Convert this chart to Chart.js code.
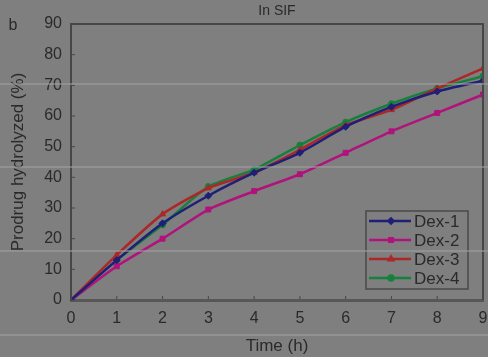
<!DOCTYPE html>
<html>
<head>
<meta charset="utf-8">
<script src="https://cdn.jsdelivr.net/npm/chart.js@4.4.1/dist/chart.umd.min.js"></script>
<style>
    html, body { margin: 0; padding: 0; background: #7f7f7f; }
    #wrap { width: 488px; height: 357px; position: relative; }
</style>
</head>
<body>
<div id="wrap"><canvas id="c"></canvas></div>
<script>
// hours
const hours = [0, 1, 2, 3, 4, 5, 6, 7, 8, 9]

// % prodrug hydrolyzed
const dex1 = [0, 13, 25, 34, 41.5, 48, 56.5, 63, 68, 71.5]
const dex2 = [0, 11, 20, 29.5, 35.5, 41, 48, 55, 61, 67]
const dex3 = [0, 14.7, 28, 36.5, 41.5, 49, 57, 62, 69, 75.5]
const dex4 = [0, 13, 24.5, 37, 42.5, 50.5, 58, 64, 69, 73]

const seriesNames = ["Dex-1", "Dex-2", "Dex-3", "Dex-4"]
const seriesColours = ["#1f1f78", "#b0137c", "#ac2727", "#16803c"]
const seriesMarkers = ["rectRot", "rect", "triangle", "circle"]

const yTicks = [0, 10, 20, 30, 40, 50, 60, 70, 80, 90]

const textColour = "#2a2a2a"
const axisColour = "#474747"
const fontFamily = "'Liberation Sans', Arial, sans-serif"

function makeSet(i, values) {
    return {
        label: seriesNames[i],
        data: hours.map((h, k) => ({x: h, y: values[k]})),
        borderColor: seriesColours[i],
        backgroundColor: seriesColours[i],
        pointStyle: seriesMarkers[i],
        pointRadius: i == 3 ? 3 : 3.5,
        pointBorderWidth: 1,
        borderWidth: 2.5,
        tension: 0.2
    }
}

// frame, inward ticks, title, panel letter and boxed legend inside the plot
const decorations = {
    id: "decorations",
    afterDraw(chart) {
        const ctx = chart.ctx
        const a = chart.chartArea
        const xs = chart.scales.x
        const ys = chart.scales.y
        ctx.save()

        ctx.strokeStyle = axisColour
        ctx.lineWidth = 2
        ctx.beginPath()
        ctx.moveTo(a.left, a.bottom)
        ctx.lineTo(a.left, a.top)
        ctx.lineTo(a.right, a.top)
        ctx.lineTo(a.right, a.bottom)
        ctx.stroke()

        // tick marks point into the plot
        ctx.lineWidth = 1
        ctx.beginPath()
        xs.ticks.forEach(t => {
            const px = xs.getPixelForValue(t.value)
            ctx.moveTo(px, a.bottom - 1)
            ctx.lineTo(px, a.bottom - 4)
        })
        ys.ticks.forEach(t => {
            const py = ys.getPixelForValue(t.value)
            ctx.moveTo(a.left + 1, py)
            ctx.lineTo(a.left + 4, py)
        })
        ctx.stroke()

        ctx.fillStyle = textColour
        ctx.font = "14px " + fontFamily
        ctx.textAlign = "center"
        ctx.textBaseline = "middle"
        ctx.fillText("In SIF", (a.left + a.right) / 2, a.top - 13)

        ctx.font = "16px " + fontFamily
        ctx.fillText("b", 13, a.top + 2)

        // legend box
        const bx = a.right - 117, by = a.bottom - 89, bw = 102, bh = 78
        ctx.strokeStyle = "#4a4a4a"
        ctx.lineWidth = 1.5
        ctx.strokeRect(bx, by, bw, bh)
        ctx.font = "17px " + fontFamily
        ctx.textAlign = "left"
        chart.data.datasets.forEach((ds, i) => {
            const yy = by + 10 + i * 19
            ctx.strokeStyle = ds.borderColor
            ctx.lineWidth = 2.5
            ctx.beginPath()
            ctx.moveTo(bx + 3, yy)
            ctx.lineTo(bx + 45, yy)
            ctx.stroke()
            ctx.fillStyle = ds.borderColor
            Chart.helpers.drawPoint(ctx, {pointStyle: ds.pointStyle, radius: 2.5, borderWidth: 1}, bx + 25, yy)
            ctx.fillStyle = textColour
            ctx.fillText(ds.label, bx + 48, yy + 1)
        })

        // faint scan lines that run across the picture
        ctx.fillStyle = "rgba(160,160,160,0.55)"
        ;[83, 166, 250, 334].forEach(y => ctx.fillRect(0, y, chart.width, 2))
        ctx.restore()
    }
}

new Chart(document.getElementById("c"), {
    type: "line",
    data: {
        datasets: [makeSet(0, dex1), makeSet(1, dex2), makeSet(2, dex3), makeSet(3, dex4)]
    },
    options: {
        responsive: true,
        maintainAspectRatio: false,
        animation: false,
        layout: { padding: { left: 0, right: 4, top: 24, bottom: 0 } },
        plugins: {
            legend: { display: false },
            tooltip: { enabled: false }
        },
        scales: {
            x: {
                type: "linear",
                min: 0,
                max: 9,
                ticks: {
                    stepSize: 1,
                    color: textColour,
                    font: { size: 16, family: fontFamily },
                    padding: 9
                },
                grid: { display: true, drawOnChartArea: false, drawTicks: false, color: axisColour },
                border: { color: "#575757", width: 3 },
                title: {
                    display: true,
                    text: "Time (h)",
                    color: textColour,
                    font: { size: 17, family: fontFamily },
                    padding: { top: 6, bottom: 0 }
                },
                afterFit(scale) {
                    scale.height = 57
                    // the last label runs off the edge in the original
                    scale.paddingRight = 0
                    scale.paddingLeft = 0
                }
            },
            y: {
                min: 0,
                max: 90,
                afterBuildTicks(scale) { scale.ticks = yTicks.map(v => ({value: v})) },
                ticks: {
                    color: textColour,
                    font: { size: 16, family: fontFamily },
                    padding: 9
                },
                grid: { display: true, drawOnChartArea: false, drawTicks: false, color: axisColour },
                border: { color: axisColour, width: 2 },
                title: {
                    display: true,
                    text: "Prodrug hydrolyzed (%)",
                    color: textColour,
                    font: { size: 17, family: fontFamily },
                    padding: { top: 8, bottom: 0 }
                },
                afterFit(scale) { scale.width = 71 }
            }
        }
    },
    plugins: [decorations]
})
</script>
</body>
</html>
